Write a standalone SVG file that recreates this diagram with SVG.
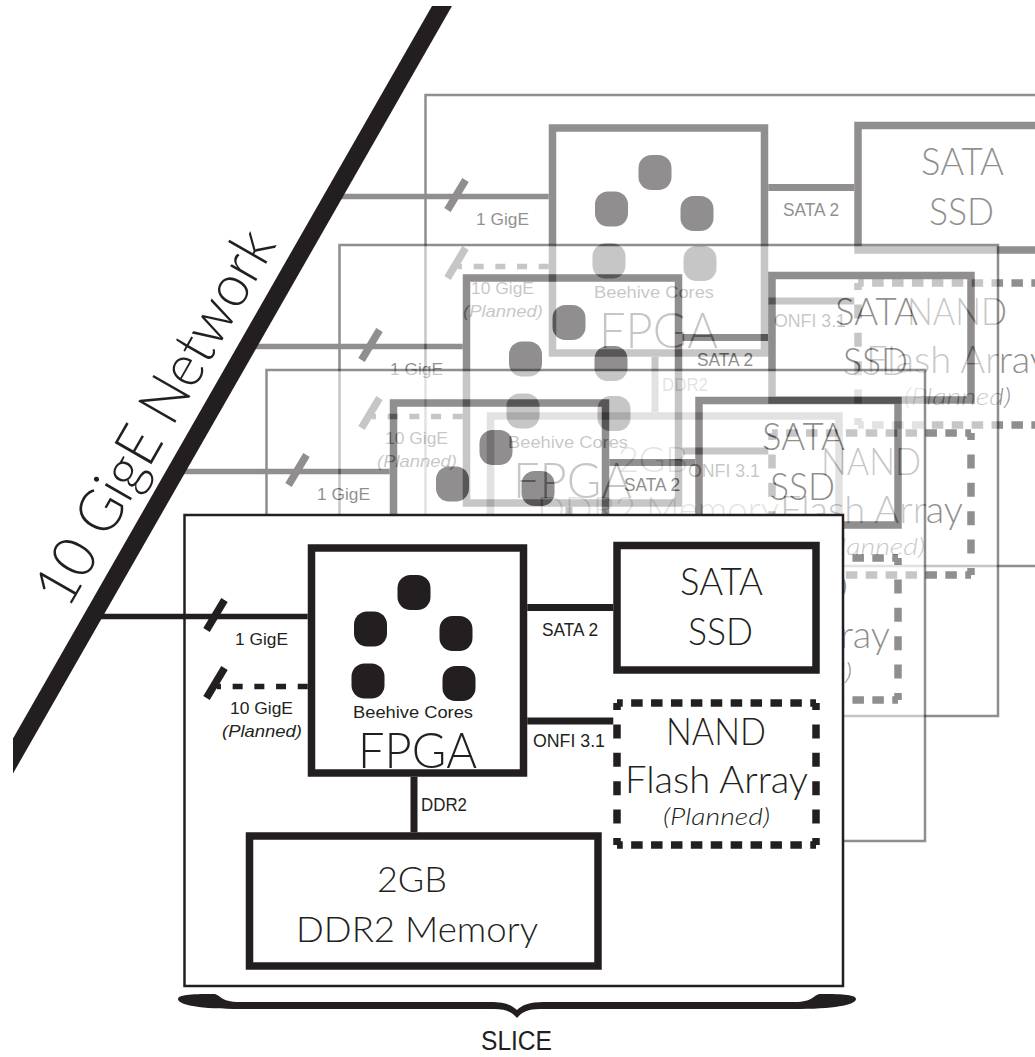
<svg xmlns="http://www.w3.org/2000/svg" xmlns:xlink="http://www.w3.org/1999/xlink" width="1035" height="1057" viewBox="0 0 1035 1057">
<style>
text { stroke: none; font-family: "Liberation Sans", Arial, sans-serif; }
.it { font-style: italic; }
.lt { font-family: Lato, "Liberation Sans", Arial, sans-serif; font-weight: 300; }
.s17 { font-size: 17px; }
.s18 { font-size: 18px; }
.s22 { font-size: 23px; }
.s34 { font-size: 35px; }
.s36 { font-size: 37px; }
.s49 { font-size: 49px; }
.box { fill: none; stroke-width: 7.5; }
.conn { fill: none; stroke-width: 5.5; }
.conn2 { fill: none; stroke-width: 7; }
.slash { fill: none; stroke-width: 7.5; }
.dash { stroke-dasharray: 10 11.7; }
.ndh { fill: none; stroke-width: 7.5; stroke-dasharray: 11.5 8.4; stroke-dashoffset: 5.75; }
.ndv { fill: none; stroke-width: 7.5; stroke-dasharray: 14 14.4; stroke-dashoffset: 7; }
.core { stroke: none; }
.frame { fill: #ffffff; stroke-width: 2.5; }
</style>

<g id="back-slices">
  <g id="slice4" opacity="0.5" stroke="#231f20" fill="#231f20" transform="translate(241,-420)">
    <rect class="frame" x="184.5" y="515" width="658.5" height="471"/>
    <use href="#slice1-content" xlink:href="#slice1-content"/>
  </g>
  <g id="slice3" opacity="0.5" stroke="#231f20" fill="#231f20" transform="translate(155,-270)">
    <rect class="frame" x="184.5" y="515" width="658.5" height="471"/>
    <use href="#slice1-content" xlink:href="#slice1-content"/>
  </g>
  <g id="slice2" opacity="0.5" stroke="#231f20" fill="#231f20" transform="translate(82,-145)">
    <rect class="frame" x="184.5" y="515" width="658.5" height="471"/>
    <use href="#slice1-content" xlink:href="#slice1-content"/>
  </g>
</g>

<g id="network">
  <polygon points="432,6 452,6 13,773.5 13,738.5" fill="#231f20"/>
  <text class="lt" transform="translate(68,610) rotate(-60.23)" x="0" y="0" font-size="60" textLength="421" lengthAdjust="spacingAndGlyphs" fill="#231f20">10 GigE Network</text>
</g>

<g id="slice1" stroke="#231f20" fill="#231f20">
  <rect class="frame" x="184.5" y="515" width="658.5" height="471"/>
  <g id="slice1-content">
    <g id="connectors">
      <path id="link-1gige" class="conn" d="M100,616.5H307.75"/>
      <path class="slash" d="M206.5,630L224.5,600"/>
      <path id="link-10gige" class="conn dash" d="M307.75,686.5H217"/>
      <path class="slash" d="M206.5,698L224.5,668"/>
      <path id="link-sata2" class="conn2" d="M527.25,607.5H613.25"/>
      <path id="link-onfi" class="conn2" d="M527.25,721H613.25"/>
      <path id="link-ddr2" class="conn2" d="M414,776.75V832.25"/>
      <text class="s17" x="235" y="645" textLength="53" lengthAdjust="spacingAndGlyphs">1 GigE</text>
      <text class="s17" x="230" y="714" textLength="63" lengthAdjust="spacingAndGlyphs">10 GigE</text>
      <text class="s17 it" x="222" y="737" textLength="80" lengthAdjust="spacingAndGlyphs">(Planned)</text>
      <text class="s18" x="542" y="636" textLength="56" lengthAdjust="spacingAndGlyphs">SATA 2</text>
      <text class="s18" x="533" y="747" textLength="72" lengthAdjust="spacingAndGlyphs">ONFI 3.1</text>
      <text class="s18" x="421" y="811" textLength="46" lengthAdjust="spacingAndGlyphs">DDR2</text>
    </g>
    <g id="fpga">
      <rect class="box" x="311.5" y="548" width="212" height="225"/>
      <rect class="core" x="397.5" y="575" width="33" height="35" rx="13" ry="13"/>
      <rect class="core" x="354" y="611.5" width="33" height="35" rx="13" ry="13"/>
      <rect class="core" x="439.5" y="616" width="33" height="35" rx="13" ry="13"/>
      <rect class="core" x="351.5" y="663.5" width="33" height="35" rx="13" ry="13"/>
      <rect class="core" x="442.5" y="666" width="33" height="35" rx="13" ry="13"/>
      <text class="s17" x="353" y="718" textLength="120" lengthAdjust="spacingAndGlyphs">Beehive Cores</text>
      <text class="s49 lt" x="358" y="768" textLength="119" lengthAdjust="spacingAndGlyphs">FPGA</text>
    </g>
    <g id="sata-ssd">
      <rect class="box" x="617" y="545.5" width="199" height="124.5"/>
      <text class="s36 lt" x="680" y="595" textLength="83" lengthAdjust="spacingAndGlyphs">SATA</text>
      <text class="s36 lt" x="688" y="645" textLength="65" lengthAdjust="spacingAndGlyphs">SSD</text>
    </g>
    <g id="nand-flash">
      <path class="ndh" d="M617,703H816"/>
      <path class="ndh" d="M617,845H816"/>
      <path class="ndv" d="M617,703V845"/>
      <path class="ndv" d="M816,703V845"/>
      <text class="s36 lt" x="666" y="745" textLength="100" lengthAdjust="spacingAndGlyphs">NAND</text>
      <text class="s36 lt" x="625" y="793" textLength="183" lengthAdjust="spacingAndGlyphs">Flash Array</text>
      <text class="s22 lt it" x="663" y="825" textLength="107" lengthAdjust="spacingAndGlyphs">(Planned)</text>
    </g>
    <g id="ddr2-memory">
      <rect class="box" x="249.5" y="836" width="348.5" height="130"/>
      <text class="s34 lt" x="377" y="892" textLength="70" lengthAdjust="spacingAndGlyphs">2GB</text>
      <text class="s34 lt" x="296" y="942" textLength="242" lengthAdjust="spacingAndGlyphs">DDR2 Memory</text>
    </g>
  </g>
</g>

<g id="slice-brace" fill="#231f20">
  <path d="M178,999 C178,995 190,994 213,994 C221,994 219,1002 240,1002 L490,1002 C505,1002 512,1005 517,1010 C522,1005 529,1002 544,1002 L794,1002 C815,1002 813,994 821,994 C844,994 856,995 856,999 C856,1004 840,1008.5 800,1009 L540,1009 C528,1009 522,1012 517,1018 C512,1012 506,1009 494,1009 L234,1009 C194,1008.5 178,1004 178,999 Z"/>
  <text x="481" y="1050" font-size="27" textLength="71" lengthAdjust="spacingAndGlyphs">SLICE</text>
</g>
</svg>
